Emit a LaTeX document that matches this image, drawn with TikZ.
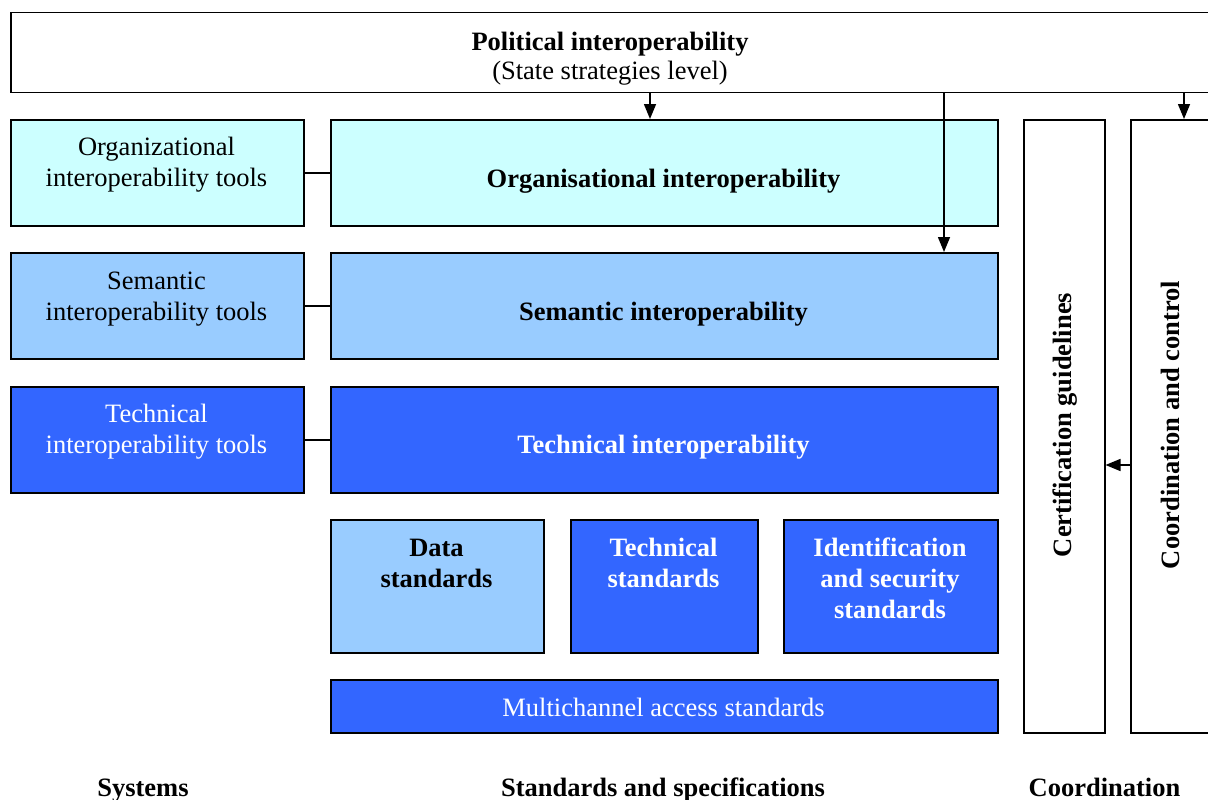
\documentclass[tikz,border=0pt]{standalone}
\usepackage{fontspec}
\setmainfont{Liberation Serif}
\usetikzlibrary{arrows.meta}
\definecolor{cyanbox}{HTML}{CCFFFF}
\definecolor{lightbox}{HTML}{99CCFF}
\definecolor{bluebox}{HTML}{3366FF}
\begin{document}
\begin{tikzpicture}[x=1pt,y=-1pt,
  box/.style={draw=black,line width=1.5pt,inner sep=0pt,anchor=north west},
  txt/.style={font=\fontsize{26.5}{31}\selectfont,align=center,inner sep=0pt},
  btxt/.style={txt,font=\fontsize{26.5}{31}\selectfont\bfseries},
  conn/.style={line width=1.5pt},
  arr/.style={line width=1.5pt,-{Triangle[length=15pt,width=12pt]}}]
\useasboundingbox (0,0) rectangle (1208,800);
\clip (0,0) rectangle (1208,800);
% boxes
\node[box,fill=white,minimum width=1200pt,minimum height=80pt] (top) at (10,12) {};
\node[box,fill=cyanbox,minimum width=293pt,minimum height=106pt] (orgtools) at (10,119) {};
\node[box,fill=lightbox,minimum width=293pt,minimum height=106pt] (semtools) at (10,252) {};
\node[box,fill=bluebox,minimum width=293pt,minimum height=106pt] (techtools) at (10,386) {};
\node[box,fill=cyanbox,minimum width=667pt,minimum height=106pt] (org) at (330,119) {};
\node[box,fill=lightbox,minimum width=667pt,minimum height=106pt] (sem) at (330,252) {};
\node[box,fill=bluebox,minimum width=667pt,minimum height=106pt] (tech) at (330,386) {};
\node[box,fill=lightbox,minimum width=213pt,minimum height=133pt] (data) at (330,519) {};
\node[box,fill=bluebox,minimum width=187pt,minimum height=133pt] (techstd) at (570,519) {};
\node[box,fill=bluebox,minimum width=214pt,minimum height=133pt] (idstd) at (783,519) {};
\node[box,fill=bluebox,minimum width=667pt,minimum height=53pt] (multi) at (330,679) {};
\node[box,fill=white,minimum width=81pt,minimum height=613pt] (cert) at (1023,119) {};
\node[box,fill=white,minimum width=81pt,minimum height=613pt] (coord) at (1130,119) {};
% texts
\node[txt,font=\fontsize{26.5}{29}\selectfont] (toptxt) at (610,58.5) {\textbf{Political interoperability}\\(State strategies level)};
\node[txt] (orgtoolstxt) at (156.5,165) {Organizational\\interoperability tools};
\node[txt] (semtoolstxt) at (156.5,299) {Semantic\\interoperability tools};
\node[txt,text=white] (techtoolstxt) at (156.5,432) {Technical\\interoperability tools};
\node[btxt] (orgtxt) at (663.5,181.5) {Organisational interoperability};
\node[btxt] (semtxt) at (663.5,314.5) {Semantic interoperability};
\node[btxt,text=white] (techtxt) at (663.5,447.5) {Technical interoperability};
\node[btxt] (datatxt) at (436.5,563.5) {Data\\standards};
\node[btxt,text=white] (techstdtxt) at (663.5,563) {Technical\\standards};
\node[btxt,text=white] (idstdtxt) at (890,578.5) {Identification\\and security\\standards};
\node[txt,text=white] (multitxt) at (663.5,707) {Multichannel access standards};
\node[btxt,rotate=90] (certtxt) at (1065,425) {Certification guidelines};
\node[btxt,rotate=90] (coordtxt) at (1170,425) {Coordination and control};
\node[btxt,anchor=base] (sys) at (143,796) {Systems};
\node[btxt,anchor=base] (stds) at (663,796) {Standards and specifications};
\node[btxt,anchor=base] (coordl) at (1104.5,796) {Coordination};
% connectors
\draw[conn] (orgtools.east) -- (org.west);
\draw[conn] (semtools.east) -- (sem.west);
\draw[conn] (techtools.east) -- (tech.west);
\coordinate (a1) at (650,0);
\coordinate (a2) at (944,0);
\coordinate (a3) at (1184,0);
\coordinate (a4) at (0,465);
\draw[arr] (top.south -| a1) -- (org.north -| a1);
\draw[arr] (top.south -| a2) -- (sem.north -| a2);
\draw[arr] (top.south -| a3) -- (coord.north -| a3);
\draw[arr] (coord.west |- a4) -- (cert.east |- a4);
\end{tikzpicture}
\end{document}
